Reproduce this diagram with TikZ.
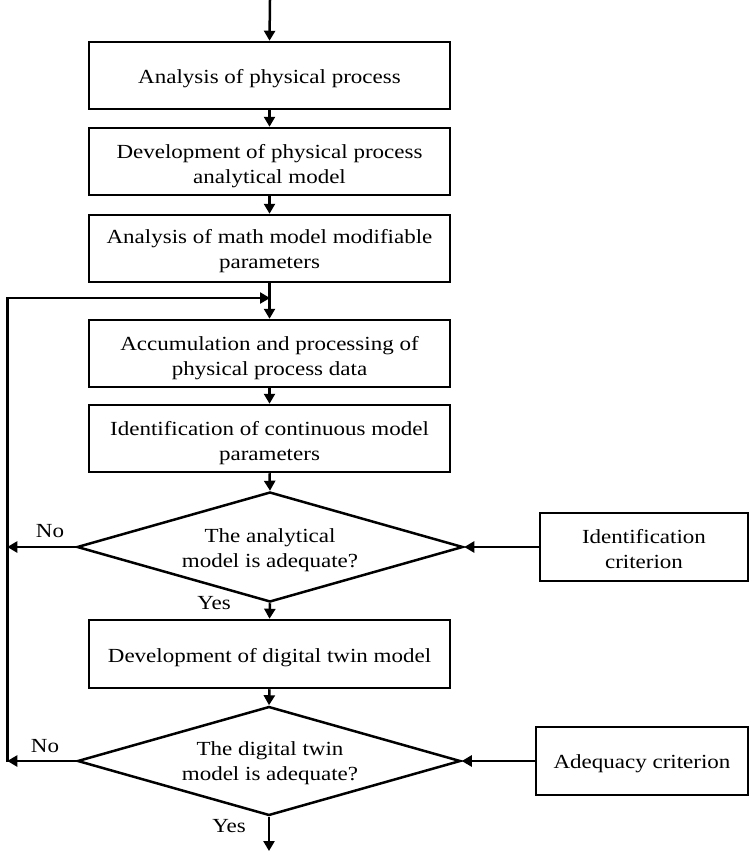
\documentclass[tikz,border=0pt]{standalone}
\usepackage{fontspec}
\setmainfont[FakeStretch=1.15]{Liberation Serif}
\usetikzlibrary{arrows.meta,shapes.geometric}
% #1 = offset of the first baseline below the node centre
\newcommand\txt[2]{\raisebox{-#1}[0pt][0pt]{\begin{tabular}[t]{@{}c@{}}#2\end{tabular}}}
\begin{document}
\begin{tikzpicture}[x=1pt,y=-1pt,
  every node/.style={font=\fontsize{20}{25}\selectfont, text=black},
  line/.style={line width=2.5pt},
  flow/.style={line width=2.5pt, -{Triangle[length=10pt,width=11pt]}},
  procbox/.style={draw, line width=2.5pt, minimum width=361pt, minimum height=67pt, inner sep=0pt},
  critbox/.style={draw, line width=2.5pt, minimum height=68pt, inner sep=0pt},
  decision/.style={draw, diamond, line width=2.5pt, inner sep=0pt},
  dtext/.style={inner sep=0pt},
  lbl/.style={inner sep=0pt}
]
\useasboundingbox (0,0) rectangle (749,851);

% process boxes
\node[procbox] (b1) at (269.5,75.5) {\txt{8.5pt}{Analysis of physical process}};
\node[procbox] (b2) at (269.5,161.5) {\txt{-3.5pt}{Development of physical process\\analytical model}};
\node[procbox] (b3) at (269.5,248.5) {\txt{-5.5pt}{Analysis of math model modifiable\\parameters}};
\node[procbox] (b4) at (269.5,353.5) {\txt{-3.5pt}{Accumulation and processing of\\physical process data}};
\node[procbox] (b5) at (269.5,438.5) {\txt{-3.5pt}{Identification of continuous model\\parameters}};
\node[procbox, minimum height=68pt] (b6) at (269.5,654) {\txt{8pt}{Development of digital twin model}};

% decisions
\node[decision, minimum width=386pt, minimum height=110pt] (d1) at (270,547) {};
\node[dtext] (t1) at (270,547) {\txt{-5pt}{The analytical\\model is adequate?}};
\node[decision, minimum width=383pt, minimum height=109pt] (d2) at (269,761) {};
\node[dtext] (t2) at (270,761) {\txt{-5.5pt}{The digital twin\\model is adequate?}};

% criteria
\node[critbox, minimum width=208pt] (c1) at (644,547) {\txt{-4pt}{Identification\\criterion}};
\node[critbox, minimum width=212pt] (c2) at (642,761) {\txt{7pt}{Adequacy criterion}};

% labels
\node[lbl, anchor=base] (no1) at (50,537) {No};
\node[lbl, anchor=base] (yes1) at (214,609) {Yes};
\node[lbl, anchor=base] (no2) at (45,752) {No};
\node[lbl, anchor=base] (yes2) at (229,832) {Yes};

% coordinates
\coordinate (start) at (270,0);
\coordinate (stop) at (269,851);
\coordinate (j) at (270,298);
\coordinate (lt) at (7.3,298);
\coordinate (l1) at (7.3,547);
\coordinate (l2) at (7.3,761);

% connectors
\draw[flow] (start) -- (b1.north);
\draw[flow] (b1) -- (b2);
\draw[flow] (b2) -- (b3);
\draw[flow] (b3) -- (b4);
\draw[flow] (b4) -- (b5);
\draw[flow] (b5.south) -- (d1.north);
\draw[flow] (d1.south) -- (b6.north);
\draw[flow] (b6.south) -- (d2.north);
\draw[flow] (d2.south) -- (stop);
\draw[flow] (c1.west) -- (d1.east);
\draw[flow] (c2.west) -- (d2.east);
\draw[flow] (d1.west) -- (l1);
\draw[flow] (d2.west) -- (l2);
\draw[line, line cap=rect] (l2) -- (lt);
\draw[flow] (lt) -- (j);
\end{tikzpicture}
\end{document}
